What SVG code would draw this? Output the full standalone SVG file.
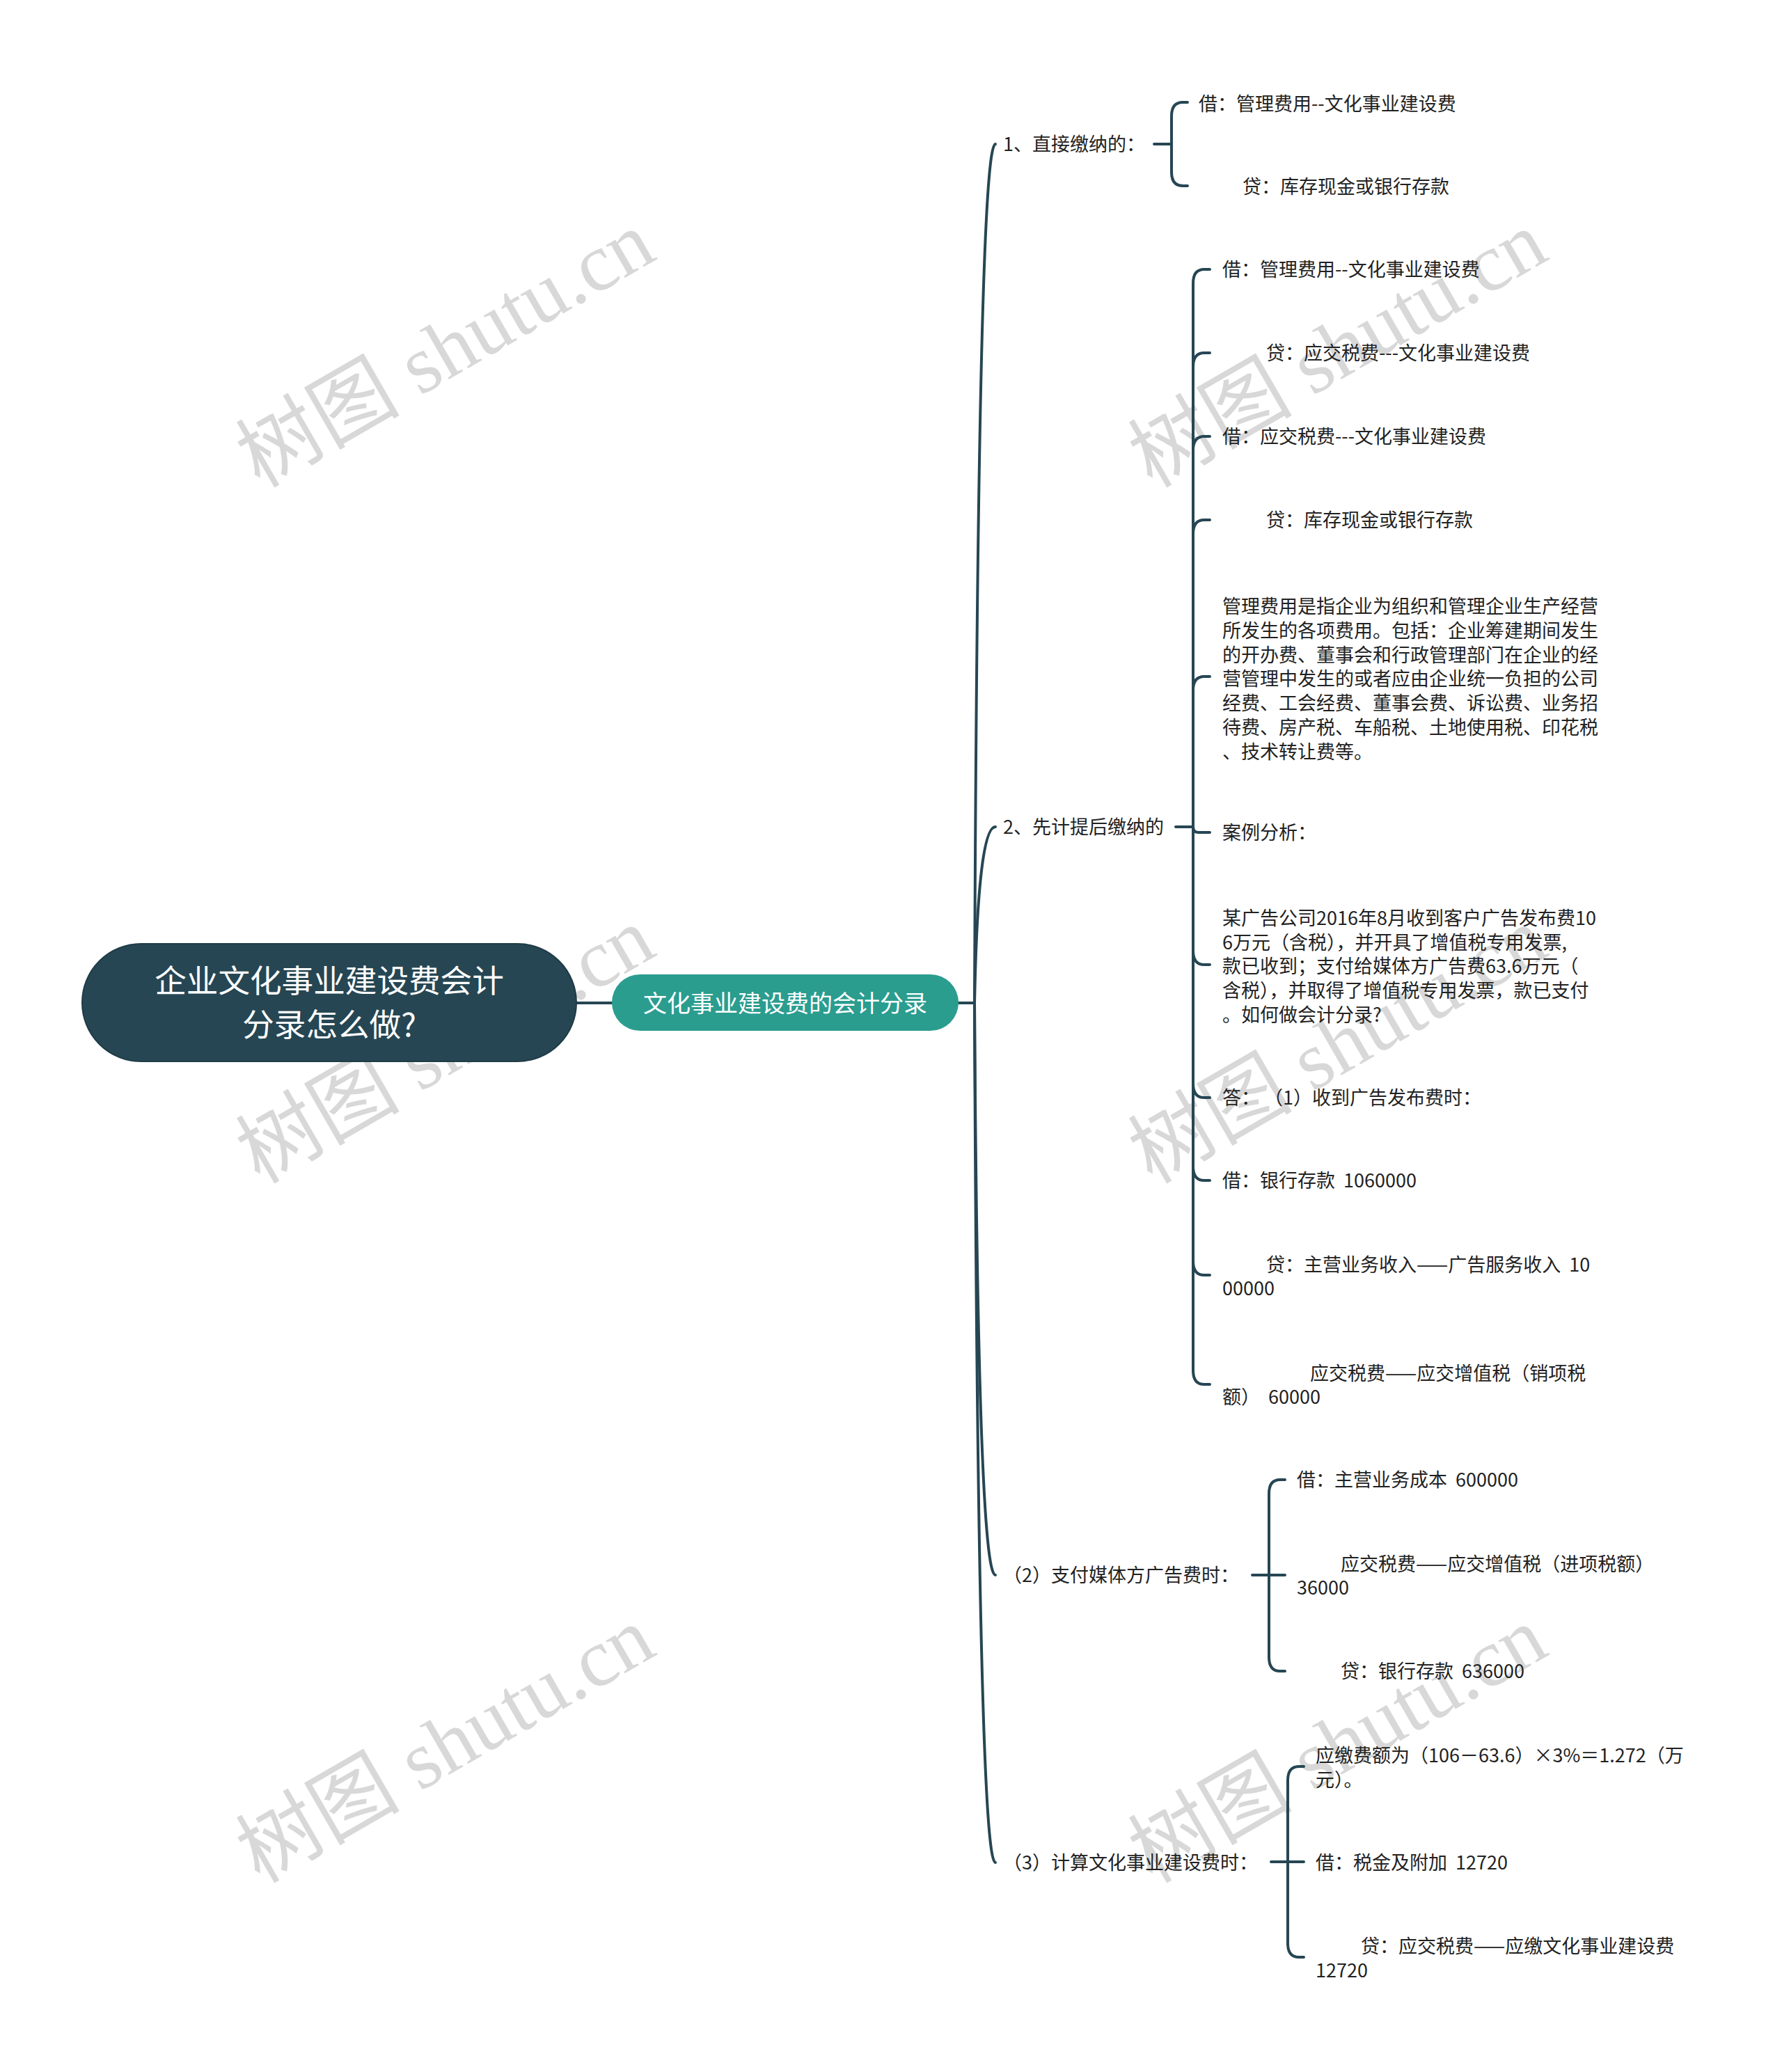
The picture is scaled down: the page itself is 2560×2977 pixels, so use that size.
<svg xmlns="http://www.w3.org/2000/svg" width="2560" height="2977" viewBox="0 0 2560 2977">
<style>
.t{font-family:"Noto Sans CJK SC","Noto Sans",sans-serif;font-size:27px;fill:#222;white-space:pre}
.c{fill:none;stroke:#264653;stroke-width:4;stroke-linecap:round;stroke-linejoin:round}
.wm{font-family:"Liberation Serif","Noto Sans CJK SC",serif;font-size:118px;fill:#d8d8d8}
.rt{font-family:"Noto Sans CJK SC","Noto Sans",sans-serif;font-size:45.6px;fill:#fff;text-anchor:middle}
.ct{font-family:"Noto Sans CJK SC","Noto Sans",sans-serif;font-size:34px;fill:#fff;text-anchor:middle}
</style>
<rect width="2560" height="2977" fill="#fff"/>
<g id="watermark">
<text class="wm" x="373" y="702" transform="rotate(-30 373 702)">树图 shutu.cn</text>
<text class="wm" x="1655" y="702" transform="rotate(-30 1655 702)">树图 shutu.cn</text>
<text class="wm" x="373" y="1702" transform="rotate(-30 373 1702)">树图 shutu.cn</text>
<text class="wm" x="1655" y="1702" transform="rotate(-30 1655 1702)">树图 shutu.cn</text>
<text class="wm" x="373" y="2707" transform="rotate(-30 373 2707)">树图 shutu.cn</text>
<text class="wm" x="1655" y="2707" transform="rotate(-30 1655 2707)">树图 shutu.cn</text>
</g>
<g id="connectors">
<path class="c" d="M828 1441H879"/>
<path class="c" d="M1377 1441H1400"/>
<path class="c" d="M1400 1441Q1405 207 1430 207"/>
<path class="c" d="M1400 1441Q1405 1188 1430 1188"/>
<path class="c" d="M1400 1441Q1405 2263 1430 2263"/>
<path class="c" d="M1400 1441Q1405 2676 1430 2676"/>
<path class="c" d="M1658 207H1683M1683 207V167Q1683 147 1699 147H1706M1683 207V247Q1683 267 1699 267H1706"/>
<path class="c" d="M1689 1188H1714"/>
<path class="c" d="M1714 1188V407Q1714 387 1730 387H1738"/>
<path class="c" d="M1714 1188V527Q1714 507 1730 507H1738"/>
<path class="c" d="M1714 1188V647Q1714 627 1730 627H1738"/>
<path class="c" d="M1714 1188V767Q1714 747 1730 747H1738"/>
<path class="c" d="M1714 1188V992Q1714 972 1730 972H1738"/>
<path class="c" d="M1714 1188Q1714 1196 1722 1196H1738"/>
<path class="c" d="M1714 1188V1366Q1714 1386 1730 1386H1738"/>
<path class="c" d="M1714 1188V1557Q1714 1577 1730 1577H1738"/>
<path class="c" d="M1714 1188V1676Q1714 1696 1730 1696H1738"/>
<path class="c" d="M1714 1188V1812Q1714 1832 1730 1832H1738"/>
<path class="c" d="M1714 1188V1969Q1714 1989 1730 1989H1738"/>
<path class="c" d="M1799 2263H1846M1823 2263V2146Q1823 2126 1839 2126H1846M1823 2263V2381Q1823 2401 1839 2401H1846"/>
<path class="c" d="M1826 2675H1873M1850 2675V2558Q1850 2538 1866 2538H1873M1850 2675V2792Q1850 2812 1866 2812H1873"/>
</g>
<g id="root">
<rect x="118" y="1356" width="710" height="169" rx="84.5" fill="#264653" stroke="#1f3b46" stroke-width="2"/>
<text class="rt" x="473" y="1426">企业文化事业建设费会计</text>
<text class="rt" x="473" y="1489">分录怎么做?</text>
</g>
<g id="main">
<rect x="879" y="1400" width="498" height="81" rx="40.5" fill="#2a9d8f"/>
<text class="ct" x="1128" y="1454">文化事业建设费的会计分录</text>
</g>
<g id="n1"><text class="t" x="1441" y="217">1、直接缴纳的：</text></g>
<g id="n1a"><text class="t" x="1722" y="159">借：管理费用--文化事业建设费</text></g>
<g id="n1b"><text class="t" x="1785" y="278">贷：库存现金或银行存款</text></g>
<g id="n2"><text class="t" x="1441" y="1198">2、先计提后缴纳的</text></g>
<g id="n2a"><text class="t" x="1756" y="397">借：管理费用--文化事业建设费</text></g>
<g id="n2b"><text class="t" x="1819" y="517">贷：应交税费---文化事业建设费</text></g>
<g id="n2c"><text class="t" x="1756" y="637">借：应交税费---文化事业建设费</text></g>
<g id="n2d"><text class="t" x="1819" y="757">贷：库存现金或银行存款</text></g>
<g id="n2e"><text class="t">
<tspan x="1756" y="881">管理费用是指企业为组织和管理企业生产经营</tspan>
<tspan x="1756" y="916">所发生的各项费用。包括：企业筹建期间发生</tspan>
<tspan x="1756" y="951">的开办费、董事会和行政管理部门在企业的经</tspan>
<tspan x="1756" y="985">营管理中发生的或者应由企业统一负担的公司</tspan>
<tspan x="1756" y="1020">经费、工会经费、董事会费、诉讼费、业务招</tspan>
<tspan x="1756" y="1055">待费、房产税、车船税、土地使用税、印花税</tspan>
<tspan x="1756" y="1090">、技术转让费等。</tspan>
</text></g>
<g id="n2f"><text class="t" x="1756" y="1206">案例分析：</text></g>
<g id="n2g"><text class="t">
<tspan x="1756" y="1329">某广告公司2016年8月收到客户广告发布费10</tspan>
<tspan x="1756" y="1364">6万元（含税），并开具了增值税专用发票,</tspan>
<tspan x="1756" y="1398">款已收到；支付给媒体方广告费63.6万元（</tspan>
<tspan x="1756" y="1433">含税），并取得了增值税专用发票，款已支付</tspan>
<tspan x="1756" y="1468">。如何做会计分录?</tspan>
</text></g>
<g id="n2h"><text class="t" x="1756" y="1587">答： （1）收到广告发布费时：</text></g>
<g id="n2i"><text class="t" x="1756" y="1706">借：银行存款  1060000</text></g>
<g id="n2j"><text class="t"><tspan x="1819" y="1827">贷：主营业务收入——广告服务收入  10</tspan><tspan x="1756" y="1861">00000</tspan></text></g>
<g id="n2k"><text class="t"><tspan x="1882" y="1983">应交税费——应交增值税（销项税</tspan><tspan x="1756" y="2017">额）  60000</tspan></text></g>
<g id="n3"><text class="t" x="1441" y="2273">（2）支付媒体方广告费时：</text></g>
<g id="n3a"><text class="t" x="1863" y="2136">借：主营业务成本  600000</text></g>
<g id="n3b"><text class="t"><tspan x="1926" y="2257">应交税费——应交增值税（进项税额）</tspan><tspan x="1863" y="2291">36000</tspan></text></g>
<g id="n3c"><text class="t" x="1926" y="2411">贷：银行存款  636000</text></g>
<g id="n4"><text class="t" x="1441" y="2686">（3）计算文化事业建设费时：</text></g>
<g id="n4a"><text class="t"><tspan x="1890" y="2532">应缴费额为（106－63.6）×3%＝1.272（万</tspan><tspan x="1890" y="2567">元）。</tspan></text></g>
<g id="n4b"><text class="t" x="1890" y="2686">借：税金及附加  12720</text></g>
<g id="n4c"><text class="t"><tspan x="1955" y="2806">贷：应交税费——应缴文化事业建设费</tspan><tspan x="1890" y="2841">12720</tspan></text></g>
</svg>
